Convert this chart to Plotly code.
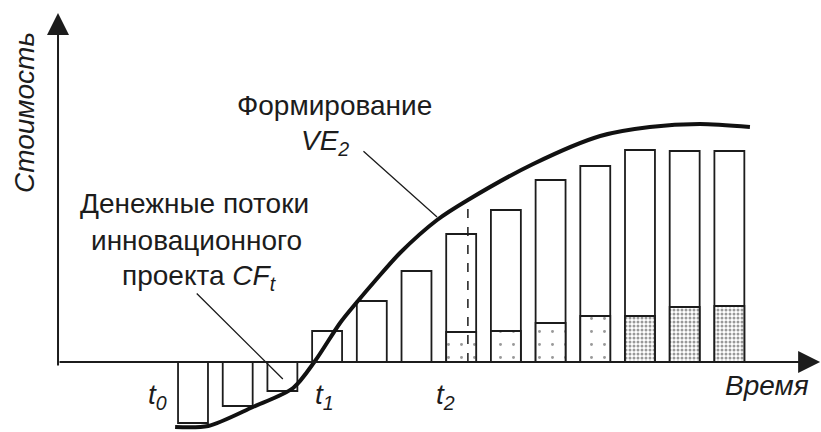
import plotly.graph_objects as go

# ---------------- data (1 x-unit = one period, 1 y-unit = value unit) ----------------
periods = list(range(13))
cash_flow_total = [-6.1, -4.4, -2.9, 3.1, 6.1, 9.1, 12.8, 15.2, 18.2, 19.6, 21.2, 21.1, 21.1]
split_periods = [6, 7, 8, 9, 10, 11, 12]
cash_flow_lower = [3.0, 3.1, 3.9, 4.6, 4.6, 5.5, 5.6]
lower_stipple = ["light", "light", "light", "light", "dense", "dense", "dense"]

ve_x = [-0.40, 0.34, 1.34, 2.24, 2.73, 3.29, 3.67, 4.07, 4.63, 5.46, 6.15, 7.61, 9.11, 10.22, 11.34, 12.46]
ve_y = [-6.5, -6.4, -4.5, -2.6, 0.1, 3.9, 6.0, 8.1, 10.9, 14.2, 16.2, 19.8, 22.6, 23.5, 23.8, 23.5]

t2_x = 6.15
t2_y = 16.2

time_labels = ["t<sub>0</sub>", "t<sub>1</sub>", "t<sub>2</sub>"]
time_label_x = [-0.80, 2.95, 5.64]

x_range = [-4.318, 14.05]
y_range = [-7.0, 36.2]
axis_x0 = -3.02
x_axis_end = 14.03
y_axis_top = 34.9

FONT = "Liberation Sans, Arial, sans-serif"
INK = "#1c1c1c"
FS = 28

fig = go.Figure()

# total bars (white)
fig.add_trace(go.Bar(
    x=periods, y=cash_flow_total, width=0.67,
    marker=dict(color="white", line=dict(color=INK, width=1.8)),
    showlegend=False, hoverinfo="skip"))

# lower stippled sections
shapes_pat = ["." for _ in lower_stipple]
solid = [0.04 if s == "light" else 0.45 for s in lower_stipple]
sizes = [13 if s == "light" else 4 for s in lower_stipple]
fig.add_trace(go.Bar(
    x=split_periods, y=cash_flow_lower, width=0.67,
    marker=dict(color="white", line=dict(color=INK, width=1.8),
                pattern=dict(shape=shapes_pat, solidity=solid, size=sizes,
                             fgcolor="#333", bgcolor="white", fillmode="overlay")),
    showlegend=False, hoverinfo="skip"))

# dashed t2 line
fig.add_trace(go.Scatter(
    x=[t2_x, t2_x], y=[0, t2_y], mode="lines",
    line=dict(color=INK, width=1.5, dash="dash"),
    showlegend=False, hoverinfo="skip"))

# VE curve
fig.add_trace(go.Scatter(
    x=ve_x, y=ve_y, mode="lines",
    line=dict(color="#111", width=4, shape="spline", smoothing=0.8),
    showlegend=False, hoverinfo="skip"))

ann = []
# axes as arrows
ann.append(dict(x=x_axis_end, y=0, ax=axis_x0, ay=0, xref="x", yref="y", axref="x", ayref="y",
                text="", showarrow=True, arrowhead=2, arrowsize=2.2, arrowwidth=2, arrowcolor=INK))
ann.append(dict(x=axis_x0, y=y_axis_top, ax=axis_x0, ay=-0.5, xref="x", yref="y", axref="x", ayref="y",
                text="", showarrow=True, arrowhead=2, arrowsize=2.2, arrowwidth=2, arrowcolor=INK))
# leader lines
ann.append(dict(x=2.01, y=-1.7, ax=0.05, ay=7.0, xref="x", yref="y", axref="x", ayref="y",
                text="", showarrow=True, arrowhead=0, arrowwidth=1.3, arrowcolor=INK))
ann.append(dict(x=5.46, y=14.5, ax=3.78, ay=21.2, xref="x", yref="y", axref="x", ayref="y",
                text="", showarrow=True, arrowhead=0, arrowwidth=1.3, arrowcolor=INK))

def txt(x, y, s, size=FS, italic=False, angle=0):
    return dict(x=x, y=y, xref="x", yref="y", text=s, showarrow=False,
                textangle=angle, xanchor="center", yanchor="middle",
                font=dict(family=FONT, size=size, color=INK,
                          style="italic" if italic else "normal"))

ann.append(txt(3.17, 25.7, "Формирование"))
ann.append(txt(2.95, 22.0, "VE<sub>2</sub>", italic=True))
ann.append(txt(0.04, 15.9, "Денежные потоки"))
ann.append(txt(0.08, 12.2, "инновационного"))
ann.append(txt(0.15, 8.5, "проекта <i>CF<sub>t</sub></i>"))
for lbl, lx in zip(time_labels, time_label_x):
    ann.append(txt(lx, -3.4, lbl, italic=True))
ann.append(txt(12.84, -2.3, "Время", italic=True))
ann.append(txt(-3.78, 24.9, "Стоимость", italic=True, angle=-90))

fig.update_layout(
    width=821, height=432,
    margin=dict(l=0, r=0, t=0, b=0),
    paper_bgcolor="white", plot_bgcolor="white",
    barmode="overlay",
    xaxis=dict(range=x_range, visible=False, fixedrange=True),
    yaxis=dict(range=y_range, visible=False, fixedrange=True),
    annotations=ann,
)

fig.write_html("out.html", config={"displayModeBar": False},
               post_script="document.body.style.margin='0px';")
